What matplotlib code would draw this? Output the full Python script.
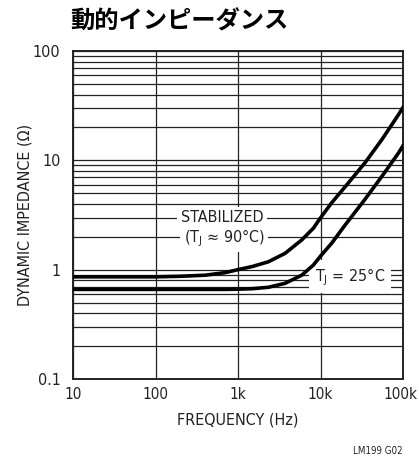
import numpy as np
import matplotlib.pyplot as plt
import matplotlib.transforms as mtransforms
from matplotlib.ticker import LogLocator, FixedLocator, NullFormatter

plt.rcParams['font.family'] = ['DejaVu Sans']
plt.rcParams['font.stretch'] = 'condensed'

# values
freq_stab = [10, 30, 100, 200, 400, 700, 1000, 1500, 2330, 3720, 5920, 8180,
             10000, 13700, 21700, 34600, 55200, 87700, 100000]
z_stab = [0.86, 0.86, 0.86, 0.87, 0.89, 0.94, 1.0, 1.07, 1.18, 1.41, 1.87, 2.39,
          2.98, 4.1, 6.2, 9.5, 15.4, 26.0, 30.5]

freq_25 = [10, 30, 100, 300, 700, 1000, 1500, 2330, 3720, 5920, 8180, 10000,
           13700, 19800, 34600, 55200, 87700, 100000]
z_25 = [0.66, 0.66, 0.66, 0.66, 0.66, 0.663, 0.67, 0.69, 0.75, 0.89, 1.10, 1.33,
        1.75, 2.55, 4.4, 7.1, 11.6, 13.6]

x_ticks = [10, 100, 1000, 10000, 100000]
x_labels = ['10', '100', '1k', '10k', '100k']
y_ticks = [0.1, 1, 10, 100]
y_labels = ['0.1', '1', '10', '100']


def main():
    fig = plt.figure(figsize=(4.19, 4.57), dpi=100)
    ax = fig.add_axes([73 / 419, 1 - 379 / 457, 330 / 419, 328 / 457])

    ax.set_xscale('log')
    ax.set_yscale('log')
    ax.set_xlim(10, 100000)
    ax.set_ylim(0.1, 100)

    # grid: decades on x, every minor step on y
    ax.xaxis.set_major_locator(FixedLocator(x_ticks))
    ax.xaxis.set_minor_locator(FixedLocator([]))
    ax.yaxis.set_major_locator(FixedLocator(y_ticks))
    ax.yaxis.set_minor_locator(LogLocator(base=10, subs=np.arange(2, 10)))
    ax.yaxis.set_minor_formatter(NullFormatter())
    ax.set_xticklabels(x_labels)
    ax.set_yticklabels(y_labels)
    ax.grid(True, which='both', color='#222222', linewidth=0.9)
    ax.tick_params(which='both', length=0, labelsize=11.5, colors='#222222')
    ax.tick_params(axis='y', pad=9)
    ax.tick_params(axis='x', pad=6, labelsize=11)
    # nudge the last x label so it stays inside the figure
    last = ax.get_xticklabels()[-1]
    last.set_transform(last.get_transform() +
                       mtransforms.ScaledTranslation(-3 / 100, 0, fig.dpi_scale_trans))
    for sp in ax.spines.values():
        sp.set_linewidth(1.4)
        sp.set_color('#222222')

    ax.plot(freq_stab, z_stab, color='black', linewidth=2.6, zorder=5)
    ax.plot(freq_25, z_25, color='black', linewidth=2.6, zorder=5)

    box = dict(facecolor='white', edgecolor='none', pad=2.5)
    ax.text(640, 2.97, 'STABILIZED', ha='center', va='center', fontsize=11.5,
            color='#222222', bbox=box, zorder=4)
    ax.text(680, 1.95, r'(T$_\mathregular{J}$ ≈ 90°C)', ha='center', va='center',
            fontsize=11.5, color='#222222', bbox=box, zorder=4)
    ax.text(22800, 0.86, r'T$_\mathregular{J}$ = 25°C', ha='center', va='center',
            fontsize=11.5, color='#222222',
            bbox=dict(facecolor='white', edgecolor='none', pad=4), zorder=4)

    ax.set_xlabel('FREQUENCY (Hz)', fontsize=11.5, color='#222222', labelpad=7)
    ax.set_ylabel('DYNAMIC IMPEDANCE (Ω)', fontsize=11.5, color='#222222', labelpad=0)

    fig.text(70 / 419, 1 - 22 / 457, '動的インピーダンス', fontsize=17.5, fontweight='bold',
             family=['Noto Sans CJK JP', 'DejaVu Sans'], va='center', ha='left')
    fig.text(403 / 419, 1 - 451 / 457, 'LM199 G02', fontsize=7, color='#222222',
             ha='right', va='center')

    fig.savefig('out.png', dpi=100)


if __name__ == '__main__':
    main()
